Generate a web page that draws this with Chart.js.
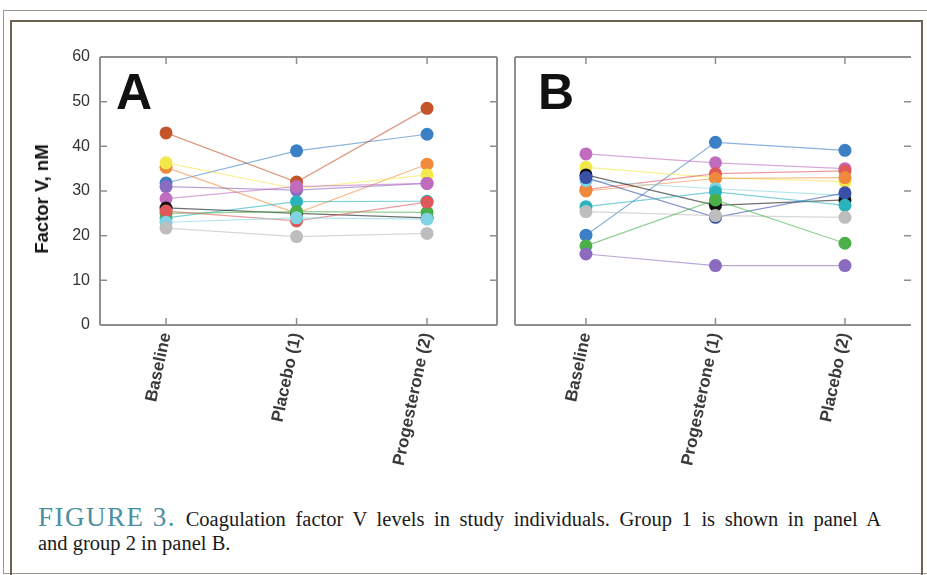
<!DOCTYPE html>
<html>
<head>
<meta charset="utf-8">
<script src="https://cdn.jsdelivr.net/npm/chart.js@4.4.1/dist/chart.umd.min.js"></script>
<style>
  html, body { margin: 0; padding: 0; background: #fff; }
  #page { position: relative; width: 927px; height: 575px; overflow: hidden; background: #fff; }
  .outer { position: absolute; left: 3px; top: 10px; width: 940px; height: 562px; border: 1px solid #9c968c; }
  .inner { position: absolute; left: 10px; top: 20px; width: 909px; height: 600px;
           border-top: 2px solid #6c6352; border-left: 2px solid #6c6352; border-right: 2px solid #6c6352; }
  canvas { position: absolute; top: 0; }
  .letter { position: absolute; font: bold 50px "Liberation Sans", Arial, sans-serif; line-height: 1; color: #111; }
  .ytitle { position: absolute; left: 42px; top: 199px; transform: translate(-50%, -50%) rotate(-90deg);
            font: bold 18.5px "Liberation Sans", Arial, sans-serif; color: #111; white-space: nowrap; }
  .caption { position: absolute; left: 38px; top: 505px; font: 20.5px "Liberation Serif", "DejaVu Serif", serif;
             line-height: 24px; color: #1a1a1a; white-space: nowrap; }
  .caption .l1 { word-spacing: 4.5px; }
  .caption b { font-weight: normal; font-size: 27px; letter-spacing: 1.5px; word-spacing: 0; color: #4b8fa3; }
</style>
</head>
<body>
<div id="page">
  <div class="outer"></div>
  <div class="inner"></div>
  <canvas id="chartA" width="505" height="480" style="left:0"></canvas>
  <canvas id="chartB" width="422" height="480" style="left:505px"></canvas>
  <div class="letter" style="left:116px; top:67px">A</div>
  <div class="letter" style="left:538px; top:67px">B</div>
  <div class="ytitle">Factor V, nM</div>
  <div class="caption">
    <div class="l1"><b>FIGURE 3.</b> Coagulation factor V levels in study individuals. Group 1 is shown in panel A</div>
    <div>and group 2 in panel B.</div>
  </div>
</div>
<script>
// --- DATA ---
const catsA = ['Baseline', 'Placebo (1)', 'Progesterone (2)'];
const catsB = ['Baseline', 'Progesterone (1)', 'Placebo (2)'];
const yTicks = [0, 10, 20, 30, 40, 50, 60];

// group 1 (panel A), one array per subject
const aRust    = [43.0, 32.0, 48.5];
const aBlue    = [31.8, 39.0, 42.7];
const aOrange  = [35.3, 25.0, 36.0];
const aYellow  = [36.3, 30.5, 33.6];
const aPurple  = [31.0, 30.2, 31.7];
const aMagenta = [28.3, 31.0, 31.7];
const aBlack   = [26.2, 25.0, 24.0];
const aGreen   = [25.0, 25.4, 25.2];
const aTeal    = [24.0, 27.6, 27.7];
const aCyan    = [23.0, 24.0, 23.7];
const aGray    = [21.7, 19.8, 20.5];
const aRed     = [25.5, 23.3, 27.5];

// group 2 (panel B)
const bBlue    = [20.1, 40.9, 39.1];
const bMagenta = [38.3, 36.3, 35.0];
const bYellow  = [35.3, 33.0, 32.1];
const bBlack   = [33.6, 26.8, 28.0];
const bNavy    = [33.0, 24.1, 29.6];
const bCyan    = [32.3, 30.5, 29.0];
const bOrange  = [30.0, 32.8, 33.0];
const bRed     = [30.3, 33.9, 34.5];
const bTeal    = [26.5, 29.8, 26.8];
const bGray    = [25.4, 24.5, 24.1];
const bGreen   = [17.7, 28.0, 18.3];
const bPurple  = [15.9, 13.3, 13.3];

const colors = {
    blue: '59,127,196', rust: '196,85,43', orange: '239,138,60', yellow: '243,232,74',
    purple: '138,107,191', magenta: '194,108,192', black: '17,17,17', green: '75,176,74',
    teal: '42,179,189', cyan: '127,211,227', gray: '189,189,189', red: '224,89,90', navy: '57,80,168'
};

const seriesA = [
    [aGray, 'gray'], [aCyan, 'cyan'], [aRed, 'red'], [aGreen, 'green'], [aBlack, 'black'], [aTeal, 'teal'],
    [aMagenta, 'magenta'], [aPurple, 'purple'], [aYellow, 'yellow'], [aOrange, 'orange'], [aBlue, 'blue'], [aRust, 'rust']
];
const seriesB = [
    [bPurple, 'purple'], [bGreen, 'green'], [bGray, 'gray'], [bTeal, 'teal'], [bNavy, 'navy'], [bBlack, 'black'],
    [bCyan, 'cyan'], [bOrange, 'orange'], [bRed, 'red'], [bYellow, 'yellow'], [bMagenta, 'magenta'], [bBlue, 'blue']
];

function toDatasets(list) {
    return list.map(([vals, c]) => ({
        data: vals.map((v, i) => ({ x: i, y: v })),
        borderColor: `rgba(${colors[c]},0.6)`,
        borderWidth: 1.2,
        pointRadius: 6.5,
        pointBorderWidth: 0,
        pointBackgroundColor: `rgb(${colors[c]})`
    }));
}

// box around the plot with inward tick marks
const frame = {
    id: 'frame',
    afterDraw(chart, args, opts) {
        const { ctx, chartArea: a, scales: { x, y } } = chart;
        ctx.save();
        ctx.strokeStyle = '#8e8e8e';
        ctx.lineWidth = 2;
        ctx.beginPath();
        ctx.moveTo(a.left, a.top); ctx.lineTo(a.right, a.top);
        ctx.moveTo(a.left, a.bottom); ctx.lineTo(a.right, a.bottom);
        ctx.moveTo(a.left, a.top); ctx.lineTo(a.left, a.bottom);
        if (opts.rightLine) { ctx.moveTo(a.right, a.top); ctx.lineTo(a.right, a.bottom); }
        ctx.stroke();
        ctx.lineWidth = 1.5;
        ctx.beginPath();
        yTicks.forEach(v => {
            const py = y.getPixelForValue(v);
            if (opts.leftTicks) { ctx.moveTo(a.left, py); ctx.lineTo(a.left + 7, py); }
            ctx.moveTo(a.right, py); ctx.lineTo(a.right - 7, py);
        });
        [0, 1, 2].forEach(i => {
            const px = x.getPixelForValue(i);
            ctx.moveTo(px, a.top); ctx.lineTo(px, a.top + 7);
            ctx.moveTo(px, a.bottom); ctx.lineTo(px, a.bottom - 7);
        });
        ctx.stroke();
        ctx.restore();
    }
};

const tickFont = { family: '"Liberation Sans", Arial, sans-serif', size: 16 };
const catFont = { family: '"Liberation Sans", Arial, sans-serif', size: 17, weight: 'bold' };

function makeChart(id, cats, list, xMin, xMax, pad, showY, frameOpts) {
    return new Chart(document.getElementById(id), {
        type: 'line',
        data: { datasets: toDatasets(list) },
        options: {
            responsive: false,
            animation: false,
            layout: { padding: pad },
            plugins: { legend: { display: false }, tooltip: { enabled: false }, frame: frameOpts },
            scales: {
                x: {
                    type: 'linear', min: xMin, max: xMax,
                    afterBuildTicks: s => { s.ticks = cats.map((_, i) => ({ value: i })); },
                    afterFit: s => { s.height = 155; },
                    grid: { display: false, drawTicks: false },
                    border: { display: false },
                    ticks: {
                        callback: v => cats[v], autoSkip: false, minRotation: 78, maxRotation: 78,
                        font: catFont, color: '#3a3a3a', padding: 6
                    }
                },
                y: {
                    display: showY, min: 0, max: 60,
                    afterBuildTicks: s => { s.ticks = yTicks.map(v => ({ value: v })); },
                    afterFit: s => { s.width = showY ? 100 - pad.left : 0; },
                    grid: { display: false, drawTicks: false },
                    border: { display: false },
                    ticks: { font: tickFont, color: '#333', padding: 10 }
                }
            }
        },
        plugins: [frame]
    });
}

makeChart('chartA', catsA, seriesA, -0.506, 2.536, { top: 57, right: 8, left: 0, bottom: 0 }, true,
    { rightLine: true, leftTicks: true });
makeChart('chartB', catsB, seriesB, -0.548, 2.51, { top: 57, right: 16, left: 10, bottom: 0 }, false,
    { rightLine: false, leftTicks: false });
</script>
</body>
</html>
